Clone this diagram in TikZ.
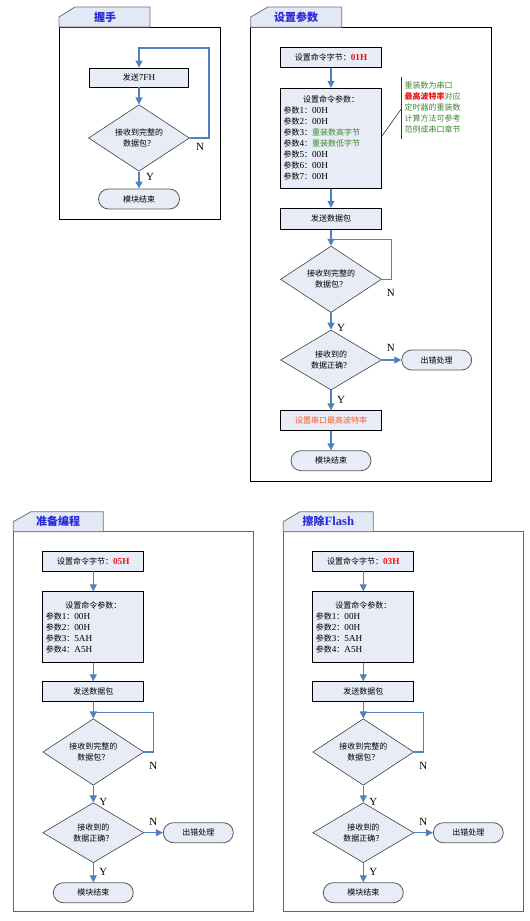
\documentclass[tikz,border=0pt]{standalone}
\usepackage{fontspec}
\setmainfont{Liberation Serif}[Scale=1.15]
\newfontfamily\cjk{Noto Sans CJK SC}
\usetikzlibrary{shapes.geometric,arrows.meta}
\newcommand{\zhtxt}[1]{{\cjk #1}}
\definecolor{boxfill}{RGB}{231,236,246}
\definecolor{tabfill}{RGB}{226,232,246}
\definecolor{arrowblue}{RGB}{79,129,189}
\definecolor{titleblue}{RGB}{40,40,215}
\definecolor{notegreen}{RGB}{60,135,50}
\definecolor{notered}{RGB}{235,20,20}
\definecolor{baudorange}{RGB}{255,90,40}
\tikzset{
  stepbox/.style={draw=black,line width=0.8pt,fill=boxfill,inner sep=0pt,minimum width=101pt,minimum height=20pt,font=\fontsize{8}{11}\selectfont},
  parbox/.style={stepbox,align=left,inner xsep=3pt,text width=95pt},
  decide/.style={diamond,draw=black!75,line width=0.6pt,fill=boxfill,inner sep=0pt,minimum width=101pt,minimum height=60pt,align=center,font=\fontsize{8}{11}\selectfont},
  term/.style={draw=black!65,line width=0.8pt,fill=boxfill,rounded corners=10pt,inner sep=0pt,minimum height=20pt,font=\fontsize{8}{11}\selectfont},
  flow/.style={draw=arrowblue,line width=1.1pt,-{Triangle[width=7pt,length=7pt]}},
  flowline/.style={draw=arrowblue,line width=1.1pt},
  yn/.style={font=\fontsize{9.5}{12}\selectfont,inner sep=0pt},
  frameA/.style={draw=black,line width=1pt},
  frameB/.style={draw=black!60,line width=1pt},
  tabshape/.style={draw=black!55,line width=0.8pt,fill=tabfill},
  tabtext/.style={text=titleblue,font=\fontsize{11}{13}\selectfont\bfseries,inner sep=0pt},
  notetext/.style={align=left,inner sep=0pt,font=\fontsize{8}{11}\selectfont,text=notegreen}
}
\begin{document}
\begin{tikzpicture}[x=1pt,y=-1pt]
\useasboundingbox[fill=white] (0,0) rectangle (530,921);

% ---------------- Panel 1 ----------------
\draw[frameA] (59,27) rectangle (220.7,219);
\draw[tabshape] (59,27) -- (59,17) -- (75,7) -- (150,7) -- (150,27) -- cycle;
\node[tabtext] (t1) at (105,17) {\zhtxt{握手}};

\node[stepbox,minimum width=99pt,minimum height=19pt] (p1box) at (139,77.5) {\zhtxt{发送}7FH};
\node[decide] (p1d) at (139,138) {\zhtxt{接收到完整的}\\\zhtxt{数据包？}};
\node[term,minimum width=81pt] (p1end) at (139,199) {\zhtxt{模块结束}};
\coordinate (p1lr) at (209,48);
\draw[flow] (p1box) -- (p1d);
\draw[flow] (p1d) -- (p1end);
\draw[flow] (p1d.east) -| (p1lr) -| (p1box.north);
\node[yn] (p1y) at (150,177) {Y};
\node[yn] (p1n) at (200,147) {N};

% ---------------- Panel 2 ----------------
\draw[frameA] (250.7,27.3) rectangle (491.7,481.7);
\draw[tabshape] (250.7,27.3) -- (250.7,17) -- (268,7) -- (341.7,7) -- (341.7,27.3) -- cycle;
\node[tabtext] (t2) at (296,17) {\zhtxt{设置参数}};

\node[stepbox] (p2cmd) at (331,57.7) {\zhtxt{设置命令字节：}\textcolor{notered}{\textbf{01H}}};
\node[parbox,minimum height=100pt] (p2par) at (331,138.3) {\makebox[95pt]{\zhtxt{设置命令参数：}}\\
\zhtxt{参数}1\zhtxt{：}00H\\
\zhtxt{参数}2\zhtxt{：}00H\\
\zhtxt{参数}3\zhtxt{：}\textcolor{notegreen}{\zhtxt{重装数高字节}}\\
\zhtxt{参数}4\zhtxt{：}\textcolor{notegreen}{\zhtxt{重装数低字节}}\\
\zhtxt{参数}5\zhtxt{：}00H\\
\zhtxt{参数}6\zhtxt{：}00H\\
\zhtxt{参数}7\zhtxt{：}00H};
\node[stepbox,minimum height=21pt] (p2send) at (331,218.8) {\zhtxt{发送数据包}};
\node[decide] (p2d1) at (331,279.3) {\zhtxt{接收到完整的}\\\zhtxt{数据包？}};
\node[decide] (p2d2) at (331,360) {\zhtxt{接收到的}\\\zhtxt{数据正确？}};
\node[term,minimum width=70pt] (p2err) at (436.7,360) {\zhtxt{出错处理}};
\node[stepbox] (p2baud) at (331,420.7) {\textcolor{baudorange}{\zhtxt{设置串口最高波特率}}};
\node[term,minimum width=80pt] (p2end) at (331,460.7) {\zhtxt{模块结束}};

\coordinate (p2lr) at (391.7,239.3);
\coordinate (p2lc) at (331,239.3);
\draw[flow] (p2cmd) -- (p2par);
\draw[flow] (p2par) -- (p2send);
\draw[flow] (p2send) -- (p2d1);
\draw[flowline] (p2d1.east) -| (p2lr) -- (p2lc);
\draw[flow] (p2d1) -- (p2d2);
\draw[flow] (p2d2) -- (p2err);
\draw[flow] (p2d2) -- (p2baud);
\draw[flow] (p2baud) -- (p2end);
\node[yn] (p2n1) at (390.7,292.7) {N};
\node[yn] (p2y1) at (341,328.3) {Y};
\node[yn] (p2n2) at (390.7,348.3) {N};
\node[yn] (p2y2) at (341,400) {Y};

% annotation
\coordinate (p2a1) at (401.7,77);
\coordinate (p2a2) at (401.7,139);
\coordinate (p2a3) at (401.7,108.3);
\coordinate (p2ab) at (381.5,136.7);
\draw[black!80,line width=0.6pt] (p2a1) -- (p2a2);
\draw[black!80,line width=0.6pt] (p2ab) -- (p2a3);
\node[notetext,anchor=west] (p2note) at (404.5,107.5) {\zhtxt{重装数为串口}\\
\textcolor{notered}{\zhtxt{\bfseries 最高波特率}}\zhtxt{对应}\\
\zhtxt{定时器的重装数}\\
\zhtxt{计算方法可参考}\\
\zhtxt{范例或串口章节}};

% ---------------- Panel 3 ----------------
\draw[frameB] (13.3,531.7) rectangle (253.3,911.7);
\draw[tabshape] (13.3,531.7) -- (13.3,521.7) -- (31,511.7) -- (103.3,511.7) -- (103.3,531.7) -- cycle;
\node[tabtext] (t3) at (58,521.7) {\zhtxt{准备编程}};

\node[stepbox,minimum height=19.5pt] (p3cmd) at (93.3,561.3) {\zhtxt{设置命令字节：}\textcolor{notered}{\textbf{05H}}};
\node[parbox,minimum height=70.6pt] (p3par) at (93.3,627) {\makebox[95pt]{\zhtxt{设置命令参数：}}\\
\zhtxt{参数}1\zhtxt{：}00H\\
\zhtxt{参数}2\zhtxt{：}00H\\
\zhtxt{参数}3\zhtxt{：}5AH\\
\zhtxt{参数}4\zhtxt{：}A5H};
\node[stepbox] (p3send) at (93.3,691.7) {\zhtxt{发送数据包}};
\node[decide,minimum height=59.4pt] (p3d1) at (93.3,752) {\zhtxt{接收到完整的}\\\zhtxt{数据包？}};
\node[decide] (p3d2) at (93.3,832.7) {\zhtxt{接收到的}\\\zhtxt{数据正确？}};
\node[term,minimum width=70pt] (p3err) at (198.3,832.7) {\zhtxt{出错处理}};
\node[term,minimum width=80pt] (p3end) at (93.3,892.7) {\zhtxt{模块结束}};

\coordinate (p3lr) at (153.3,712.7);
\coordinate (p3lc) at (93.3,712.7);
\draw[flow] (p3cmd) -- (p3par);
\draw[flow] (p3par) -- (p3send);
\draw[flow] (p3send) -- (p3d1);
\draw[flowline] (p3d1.east) -| (p3lr) -- (p3lc);
\draw[flow] (p3d1) -- (p3d2);
\draw[flow] (p3d2) -- (p3err);
\draw[flow] (p3d2) -- (p3end);
\node[yn] (p3n1) at (153.3,766) {N};
\node[yn] (p3y1) at (103.3,801.7) {Y};
\node[yn] (p3n2) at (153.3,821.7) {N};
\node[yn] (p3y2) at (103.3,871.7) {Y};

% ---------------- Panel 4 ----------------
\draw[frameB] (283.3,531.7) rectangle (523.3,911.7);
\draw[tabshape] (283.3,531.7) -- (283.3,521.7) -- (300,511.7) -- (373.3,511.7) -- (373.3,531.7) -- cycle;
\node[tabtext] (t4) at (328.3,521.7) {\zhtxt{擦除}Flash};

\node[stepbox,minimum height=19.5pt] (p4cmd) at (363.3,561.3) {\zhtxt{设置命令字节：}\textcolor{notered}{\textbf{03H}}};
\node[parbox,minimum height=70.6pt] (p4par) at (363.3,627) {\makebox[95pt]{\zhtxt{设置命令参数：}}\\
\zhtxt{参数}1\zhtxt{：}00H\\
\zhtxt{参数}2\zhtxt{：}00H\\
\zhtxt{参数}3\zhtxt{：}5AH\\
\zhtxt{参数}4\zhtxt{：}A5H};
\node[stepbox] (p4send) at (363.3,691.7) {\zhtxt{发送数据包}};
\node[decide,minimum height=59.4pt] (p4d1) at (363.3,752) {\zhtxt{接收到完整的}\\\zhtxt{数据包？}};
\node[decide] (p4d2) at (363.3,832.7) {\zhtxt{接收到的}\\\zhtxt{数据正确？}};
\node[term,minimum width=70pt] (p4err) at (468.3,832.7) {\zhtxt{出错处理}};
\node[term,minimum width=80pt] (p4end) at (363.3,892.7) {\zhtxt{模块结束}};

\coordinate (p4lr) at (423.3,712.7);
\coordinate (p4lc) at (363.3,712.7);
\draw[flow] (p4cmd) -- (p4par);
\draw[flow] (p4par) -- (p4send);
\draw[flow] (p4send) -- (p4d1);
\draw[flowline] (p4d1.east) -| (p4lr) -- (p4lc);
\draw[flow] (p4d1) -- (p4d2);
\draw[flow] (p4d2) -- (p4err);
\draw[flow] (p4d2) -- (p4end);
\node[yn] (p4n1) at (423.3,766) {N};
\node[yn] (p4y1) at (373.3,801.7) {Y};
\node[yn] (p4n2) at (423.3,821.7) {N};
\node[yn] (p4y2) at (373.3,871.7) {Y};
\end{tikzpicture}
\end{document}
